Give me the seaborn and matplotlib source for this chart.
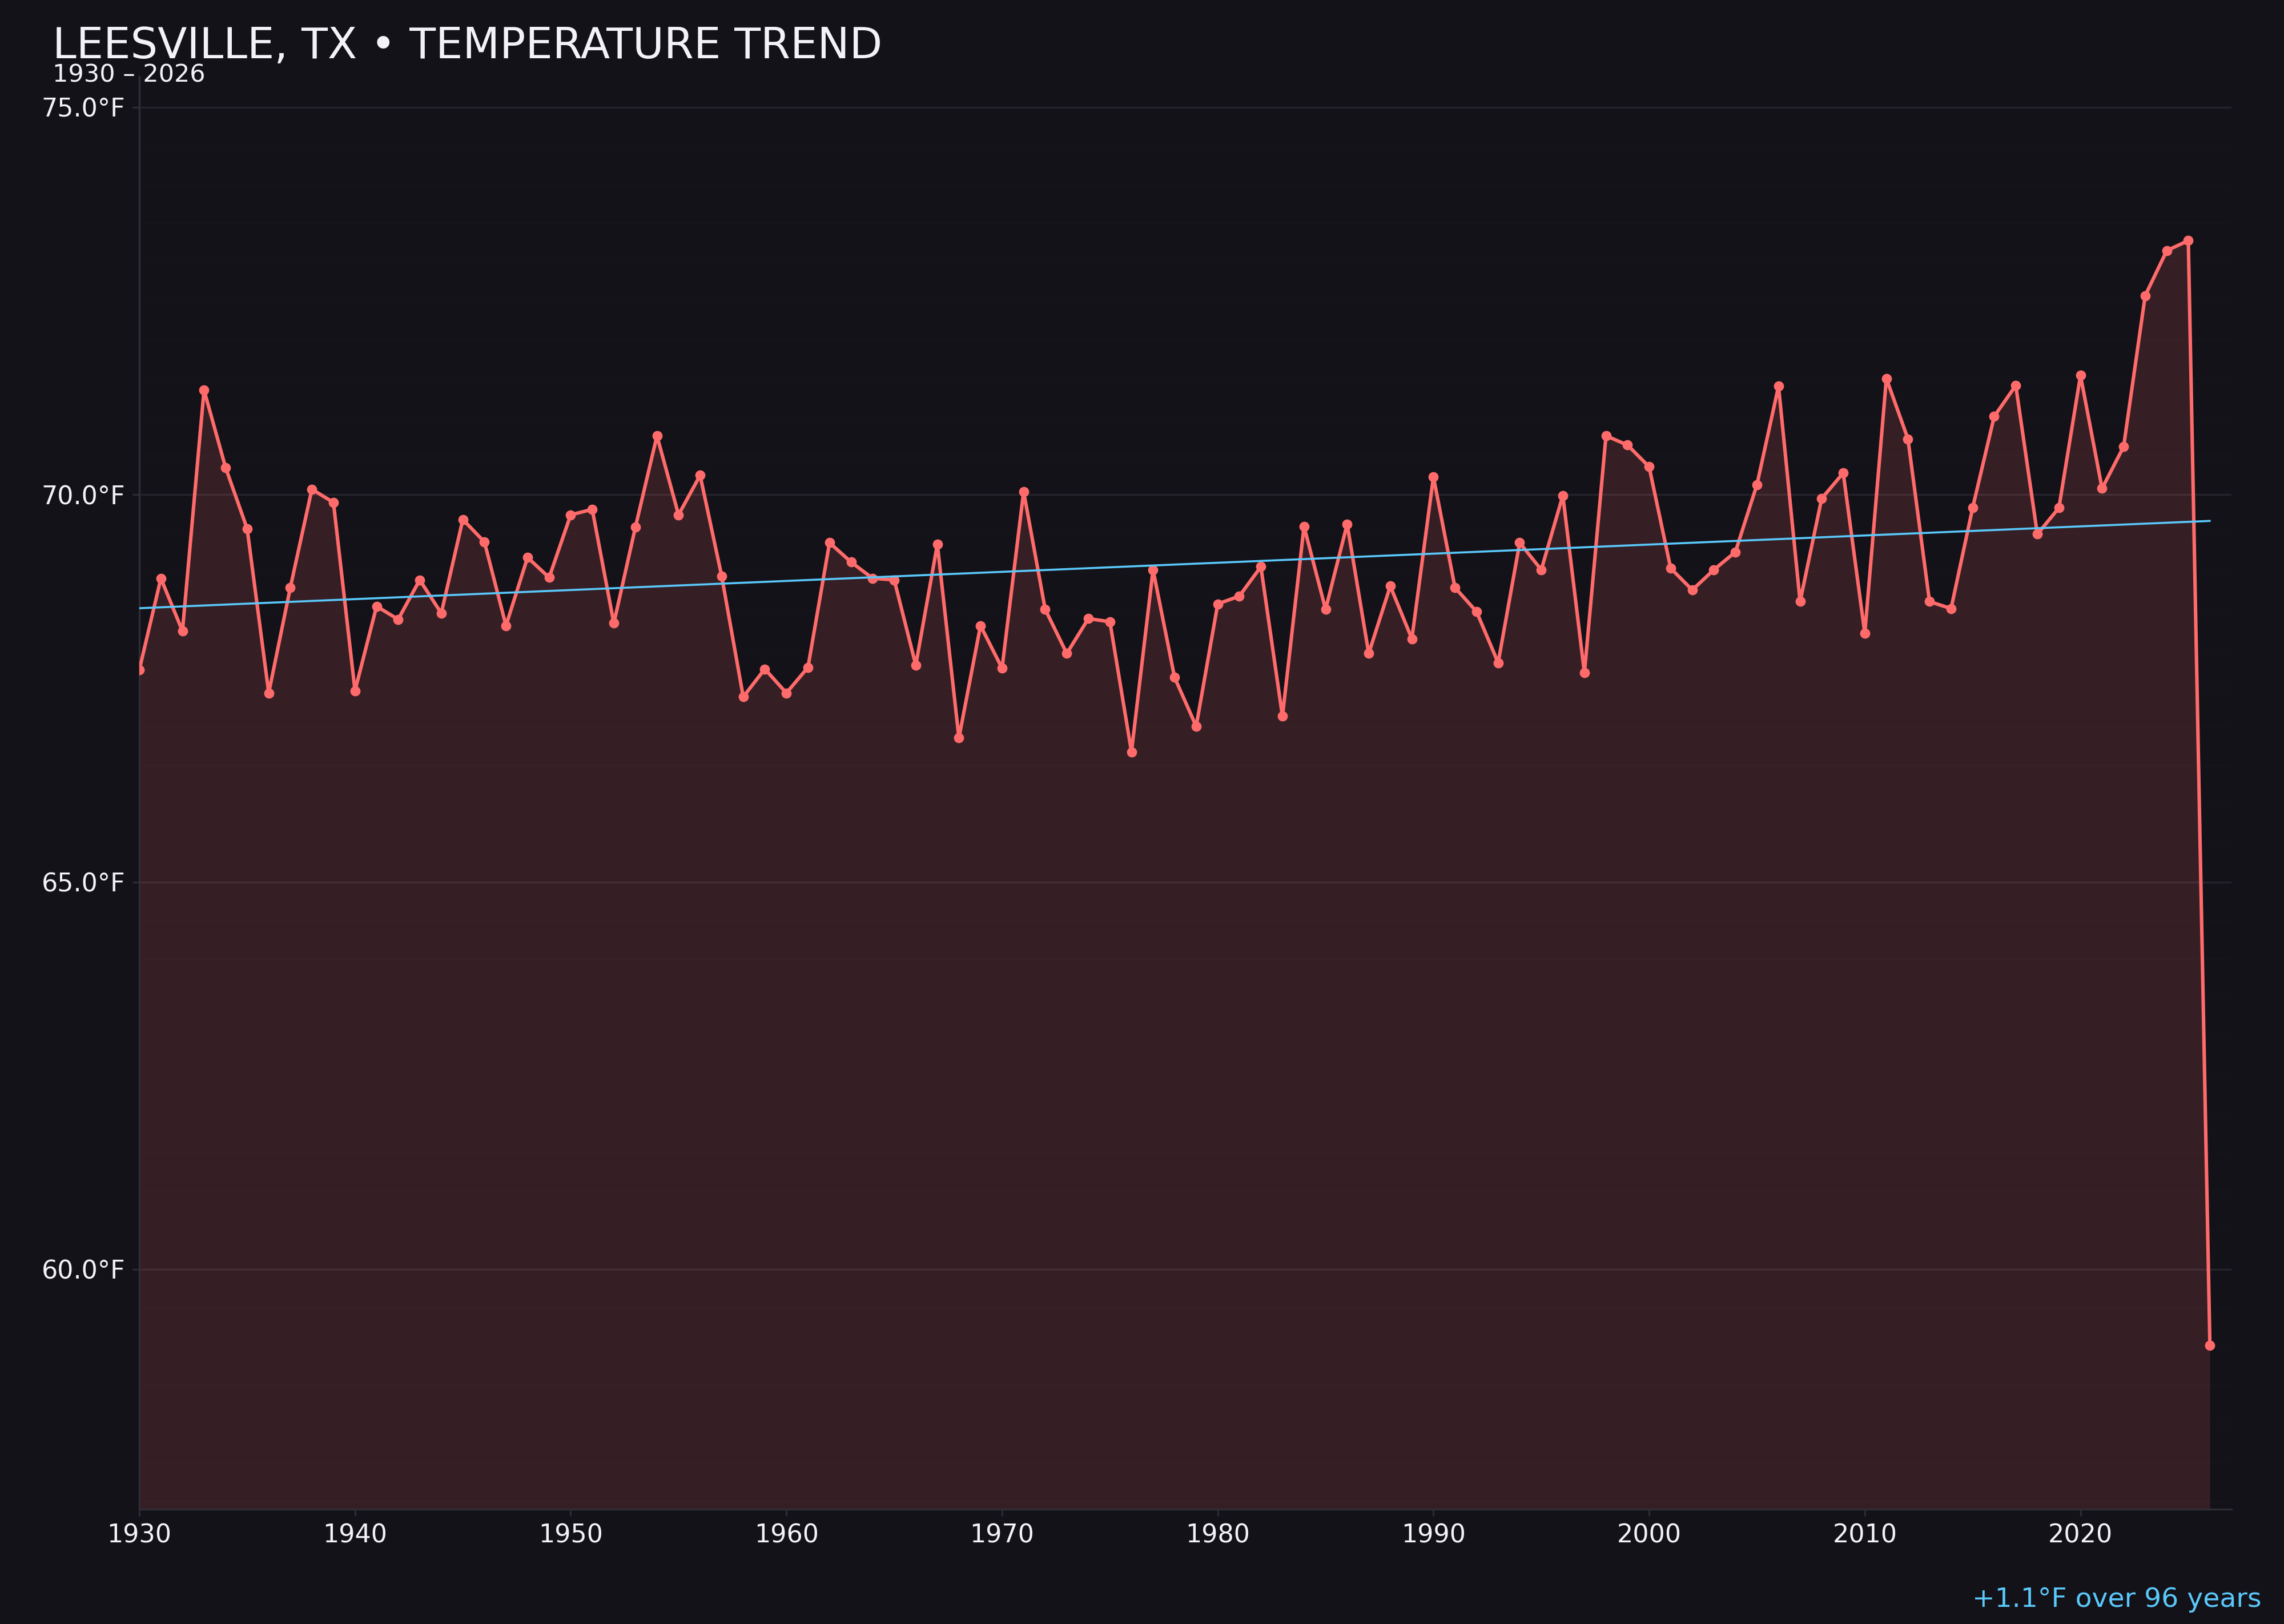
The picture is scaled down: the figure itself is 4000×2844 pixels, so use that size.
import numpy as np
import pandas as pd
import matplotlib.pyplot as plt
import seaborn as sns
from matplotlib.ticker import MultipleLocator, FuncFormatter

# Annual mean temperature, Leesville TX
years = list(range(1930, 2027))
temps = [
    67.74, 68.92, 68.24, 71.35, 70.35, 69.56, 67.44, 68.80, 70.07, 69.90,  # 1930s
    67.47, 68.56, 68.39, 68.90, 68.47, 69.68, 69.39, 68.31, 69.19, 68.93,  # 1940s
    69.74, 69.81, 68.34, 69.58, 70.76, 69.74, 70.25, 68.95, 67.39, 67.75,  # 1950s
    67.44, 67.77, 69.38, 69.13, 68.92, 68.90, 67.80, 69.36, 66.86, 68.31,  # 1960s
    67.76, 70.04, 68.52, 67.95, 68.40, 68.36, 66.68, 69.03, 67.64, 67.01,  # 1970s
    68.59, 68.69, 69.07, 67.14, 69.59, 68.52, 69.62, 67.95, 68.82, 68.14,  # 1980s
    70.23, 68.80, 68.49, 67.83, 69.38, 69.03, 69.99, 67.70, 70.76, 70.64,  # 1990s
    70.36, 69.05, 68.77, 69.03, 69.26, 70.13, 71.40, 68.62, 69.95, 70.28,  # 2000s
    68.21, 71.50, 70.72, 68.62, 68.53, 69.83, 71.01, 71.41, 69.49, 69.83,  # 2010s
    71.54, 70.08, 70.62, 72.57, 73.15, 73.28, 59.02,                       # 2020s
]

title = "LEESVILLE, TX • TEMPERATURE TREND"
subtitle = "1930 – 2026"
trend_label = "+1.1°F over 96 years"

# colours
BG = "#131218"
LINE = "#ff6b6b"
TREND = "#5ac8fa"
TEXT = "#f2f2f7"
GRID = "#24232b"
SPINE = "#2e2d36"

sns.set_theme(style="dark", rc={
    "figure.facecolor": BG,
    "axes.facecolor": BG,
    "axes.edgecolor": SPINE,
    "text.color": TEXT,
    "xtick.color": TEXT,
    "ytick.color": TEXT,
})
plt.rcParams["font.family"] = ["DejaVu Sans"]

df = pd.DataFrame({"year": years, "temp": temps})

fig, ax = plt.subplots(figsize=(20, 14.22), dpi=200)
fig.subplots_adjust(left=0.061, right=0.977, bottom=0.0705, top=0.953)

ax.set_xlim(1930, 2027)
ax.set_ylim(56.9, 75.4)

# shaded area under the curve
ax.fill_between(df["year"], df["temp"], ax.get_ylim()[0],
                color=LINE, alpha=0.15, linewidth=0, zorder=1)

sns.lineplot(data=df, x="year", y="temp", ax=ax, color=LINE, linewidth=2.2,
             marker="o", markersize=6.4, markeredgewidth=0, zorder=3)

# linear trend over all years
sns.regplot(data=df, x="year", y="temp", ax=ax, scatter=False, ci=None,
            truncate=True, line_kws={"color": TREND, "linewidth": 1.3, "zorder": 4})

ax.set_xlabel("")
ax.set_ylabel("")

ax.xaxis.set_major_locator(MultipleLocator(10))
ax.yaxis.set_major_locator(MultipleLocator(5))
ax.yaxis.set_minor_locator(MultipleLocator(0.5))
ax.yaxis.set_major_formatter(FuncFormatter(lambda v, p: f"{v:.1f}°F"))

ax.grid(axis="y", which="major", color=GRID, linewidth=1.2, zorder=0)
ax.grid(axis="y", which="minor", color="#16151b", linewidth=0.7, zorder=0)
ax.grid(axis="x", visible=False)

ax.tick_params(axis="both", which="major", labelsize=16, length=4.3, width=1,
               color=SPINE, pad=4.5, bottom=True, left=True)
ax.tick_params(axis="y", which="minor", length=0)

for side in ["top", "right"]:
    ax.spines[side].set_visible(False)
for side in ["left", "bottom"]:
    ax.spines[side].set_color(SPINE)
    ax.spines[side].set_linewidth(1.2)

fig.text(0.023, 0.964, title, fontsize=27, color=TEXT, ha="left", va="baseline")
fig.text(0.023, 0.9495, subtitle, fontsize=15.5, color=TEXT, ha="left", va="baseline")
fig.text(0.990, 0.0105, trend_label, fontsize=17, color=TREND, ha="right", va="baseline")

fig.savefig("out.png", dpi=200, facecolor=BG)
